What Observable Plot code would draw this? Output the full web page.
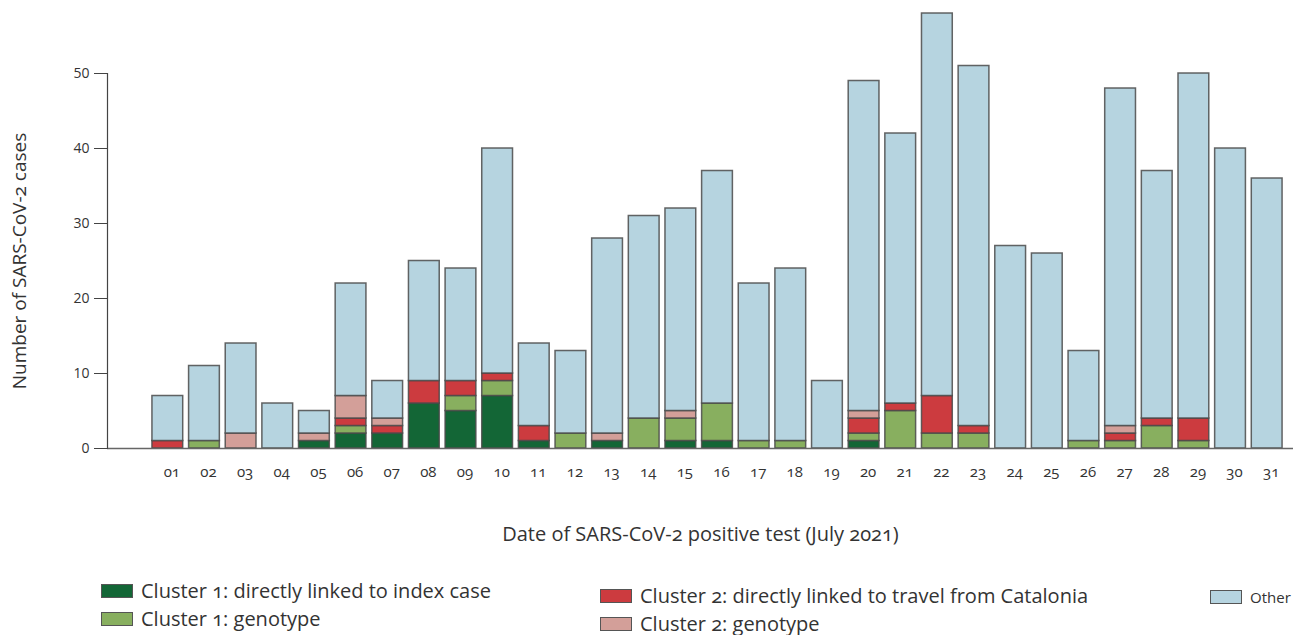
<!DOCTYPE html>
<html>
<head>
<meta charset="utf-8">
<script src="https://cdn.jsdelivr.net/npm/d3@7"></script>
<script src="https://cdn.jsdelivr.net/npm/@observablehq/plot@0.6"></script>
<style>
  body { margin: 0; background: #fff; font-family: "Open Sans", sans-serif; }
  #chart { position: relative; width: 1298px; }
  svg { font-variant-numeric: oldstyle-nums; }
  #legend { position: relative; width: 1298px; height: 75px; color: #333; font-family: "Open Sans", sans-serif; font-size: 20px; line-height: 1; }
  .item { position: absolute; display: flex; align-items: center; white-space: nowrap; height: 20px; }
  .sw { width: 30px; height: 12px; border: 1.5px solid #555; margin-right: 8px; flex: none; }
  .item span { font-variant-numeric: oldstyle-nums; line-height: 1; }
</style>
</head>
<body>
<div id="chart"></div>
<div id="legend"></div>
<script>
const days = ["01","02","03","04","05","06","07","08","09","10","11","12","13","14","15","16","17","18","19","20","21","22","23","24","25","26","27","28","29","30","31"];
const categories = ["Cluster 1: directly linked to index case", "Cluster 1: genotype", "Cluster 2:  directly linked to travel from Catalonia", "Cluster 2:  genotype", "Other"];
const colors = ["#136636", "#88af5f", "#cc3b3f", "#d39f99", "#b6d4e0"];
const cluster1Index    = [0,0,0,0,1,2,2,6,5,7,1,0,1,0,1,1,0,0,0,1,0,0,0,0,0,0,0,0,0,0,0];
const cluster1Genotype = [0,1,0,0,0,1,0,0,2,2,0,2,0,4,3,5,1,1,0,1,5,2,2,0,0,1,1,3,1,0,0];
const cluster2Travel   = [1,0,0,0,0,1,1,3,2,1,2,0,0,0,0,0,0,0,0,2,1,5,1,0,0,0,1,1,3,0,0];
const cluster2Genotype = [0,0,2,0,1,3,1,0,0,0,0,0,1,0,1,0,0,0,0,1,0,0,0,0,0,0,1,0,0,0,0];
const other            = [6,10,12,6,3,15,5,16,15,30,11,11,26,27,27,31,21,23,9,44,36,51,48,27,26,12,45,33,46,40,36];
const yTicks = [0,10,20,30,40,50];

const series = [cluster1Index, cluster1Genotype, cluster2Travel, cluster2Genotype, other];
const table = days.flatMap((d, i) => categories.map((c, k) => ({day: d, cat: c, value: series[k][i]})));

const plot = Plot.plot({
  width: 1298,
  height: 560,
  marginTop: 73,
  marginBottom: 112,
  marginLeft: 107,
  marginRight: 5,
  style: {fontFamily: "Open Sans, sans-serif", fontSize: "15px", color: "#333", background: "#fff"},
  x: {domain: days, paddingInner: 0.16, paddingOuter: 0.08, insetLeft: 42, insetRight: 8, round: false, label: null},
  y: {domain: [0, 50], label: null},
  color: {domain: categories, range: colors},
  marks: [
    Plot.barY(table, {x: "day", y: "value", fill: "cat", stroke: "#4a4a4a", strokeWidth: 1.5, strokeOpacity: 0.85}),
    Plot.ruleY([0], {stroke: "#666", strokeWidth: 1.5}),
    Plot.frame({anchor: "left", stroke: "#444", strokeWidth: 1.2}),
    Plot.axisY({ticks: yTicks, tickSize: 13, tickPadding: 5, stroke: "#444", fontSize: 14, label: "Number of SARS-CoV-2 cases", labelArrow: "none", labelAnchor: "center", labelOffset: 95}),
    Plot.axisX({tickSize: 0, tickPadding: 18, dx: 4, fontSize: 15, label: null}),
    Plot.axisX({tickSize: 0, ticks: [], label: "Date of SARS-CoV-2 positive test (July 2021)", labelArrow: "none", labelAnchor: "center", labelOffset: 92})
  ]
});
document.getElementById("chart").appendChild(plot);
plot.querySelectorAll('[aria-label="x-axis label"] text, [aria-label="y-axis label"] text').forEach(t => {
  t.textContent = t.textContent.replace(/\s*[↑→↓←]\s*/g, "");
  t.style.fill = "#333";
});
plot.querySelectorAll('[aria-label="x-axis label"] text').forEach(t => { t.style.fontSize = "20px"; });
plot.querySelectorAll('[aria-label="y-axis label"] text').forEach(t => { t.style.fontSize = "19px"; });

const legendPos = [
  {left: 101, top: 21},
  {left: 101, top: 49},
  {left: 600, top: 26},
  {left: 600, top: 54},
  {left: 1210, top: 27}
];
const legend = document.getElementById("legend");
categories.forEach((c, k) => {
  const it = document.createElement("div");
  it.className = "item";
  it.style.left = legendPos[k].left + "px";
  it.style.top = legendPos[k].top + "px";
  if (k === 4) it.style.fontSize = "15px";
  const sw = document.createElement("div");
  sw.className = "sw";
  sw.style.background = colors[k];
  const tx = document.createElement("span");
  tx.textContent = c;
  it.appendChild(sw); it.appendChild(tx);
  legend.appendChild(it);
});
</script>
</body>
</html>
